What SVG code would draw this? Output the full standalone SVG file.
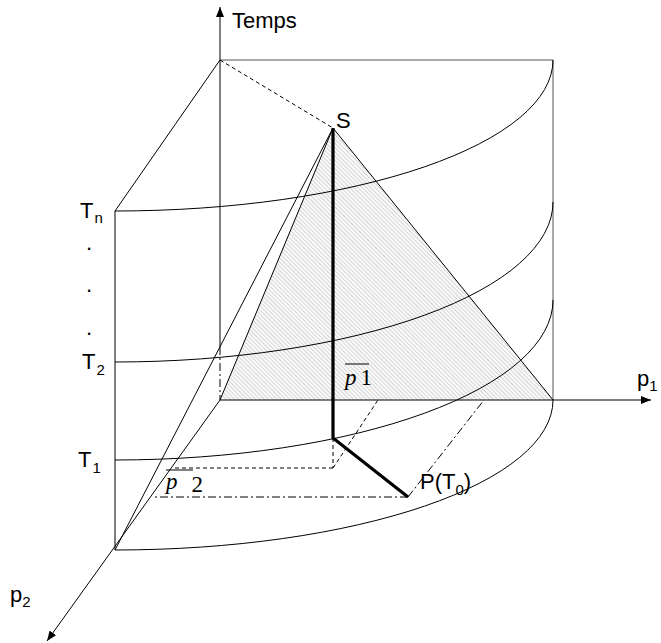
<svg xmlns="http://www.w3.org/2000/svg" width="661" height="643" viewBox="0 0 661 643">
<style>
.l{fill:none;stroke:#000;stroke-width:1}
.g{fill:none;stroke:#555;stroke-width:1}
.th{fill:none;stroke:#000;stroke-width:3.2}
.da{fill:none;stroke:#000;stroke-width:1;stroke-dasharray:4,3}
.dd{fill:none;stroke:#000;stroke-width:1;stroke-dasharray:8,3,2,3}
.t{font-family:"Liberation Sans",Arial,sans-serif;font-size:22px;fill:#000}
.s{font-family:"Liberation Sans",Arial,sans-serif;font-size:15px;fill:#000}
.m{font-family:"Liberation Serif","Times New Roman",serif;font-size:23px;fill:#000}
</style>
<defs>
<pattern id="hatch" width="3" height="3" patternUnits="userSpaceOnUse" patternTransform="rotate(-45)">
<rect width="3" height="3" fill="#fbfbfb"/>
<line x1="0.5" y1="0" x2="0.5" y2="3" stroke="#cfcfcf" stroke-width="0.9"/>
</pattern>
<marker id="arr" viewBox="0 0 10 8" refX="10" refY="4" markerWidth="10" markerHeight="8" markerUnits="userSpaceOnUse" orient="auto">
<path d="M0,0 L10,4 L0,8 Z" fill="#000"/>
</marker>
</defs>
<g id="plane">
<polygon points="333,128 220,400 553,400" fill="url(#hatch)" stroke="none"/>
</g>
<g id="cylinder">
<line class="g" x1="220" y1="60" x2="553" y2="60"/>
<line class="g" x1="553" y1="60" x2="553" y2="400"/>
<line class="l" x1="220" y1="60" x2="115" y2="211"/>
<line class="l" x1="115" y1="211" x2="115" y2="550"/>
<path class="l" d="M115,211 A438,151 0 0 0 553,60"/>
<path class="l" d="M115,362 A438,160 0 0 0 553,202"/>
<path class="l" d="M115,460 A438,160 0 0 0 553,300"/>
<path class="l" d="M115,550 A438,150 0 0 0 553,400"/>
</g>
<g id="connectors">
<line class="l" x1="220" y1="347" x2="220" y2="7" marker-end="url(#arr)"/>
<line class="dd" x1="220" y1="347" x2="220" y2="400"/>
<line class="l" x1="220" y1="400" x2="651" y2="400" marker-end="url(#arr)"/>
<line class="l" x1="220" y1="400" x2="47" y2="641" stroke-width="1.3" marker-end="url(#arr)"/>
<line class="da" x1="220" y1="60" x2="333" y2="128"/>
<line class="l" x1="333" y1="128" x2="553" y2="400"/>
<line class="l" x1="333" y1="128" x2="220" y2="400"/>
<line class="l" x1="333" y1="128" x2="115" y2="550"/>
<line class="da" x1="333" y1="438" x2="333" y2="468"/>
<line class="da" x1="333" y1="468" x2="172" y2="468"/>
<line class="da" x1="333" y1="468" x2="378" y2="400"/>
<line class="dd" x1="408" y1="497" x2="152" y2="497"/>
<line class="dd" x1="408" y1="497" x2="484" y2="400"/>
<polyline class="th" points="333,128 333,438 408,497"/>
</g>
<g id="labels">
<text class="t" x="232" y="28">Temps</text>
<text class="t" x="336" y="128">S</text>
<text class="t" x="80" y="218">T<tspan class="s" dy="5" dx="1">n</tspan></text>
<text class="t" x="86" y="250">.</text>
<text class="t" x="86" y="292">.</text>
<text class="t" x="86" y="335">.</text>
<text class="t" x="82" y="369">T<tspan class="s" dy="6" dx="1">2</tspan></text>
<text class="t" x="78" y="467">T<tspan class="s" dy="6" dx="1">1</tspan></text>
<text class="t" x="637" y="386">p<tspan class="s" dy="5">1</tspan></text>
<text class="t" x="10" y="602">p<tspan class="s" dy="5">2</tspan></text>
<text class="t" x="420" y="489">P(T<tspan class="s" dy="6">0</tspan><tspan dy="-6">)</tspan></text>
<line x1="345" y1="364" x2="369" y2="364" stroke="#000" stroke-width="1"/>
<text class="m" x="345" y="385"><tspan font-style="italic">p</tspan><tspan dx="4">1</tspan></text>
<line x1="166" y1="470" x2="193" y2="470" stroke="#000" stroke-width="1"/>
<text class="m" x="166" y="489"><tspan font-style="italic">p</tspan><tspan dx="14" dy="3">2</tspan></text>
</g>
</svg>
